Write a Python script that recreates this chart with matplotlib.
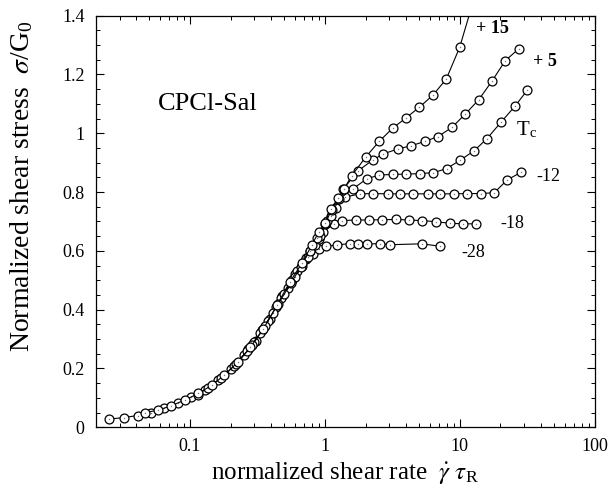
import matplotlib
matplotlib.use("Agg")
import matplotlib.pyplot as plt
from matplotlib.ticker import LogLocator, MultipleLocator, FixedLocator, FixedFormatter, NullFormatter

plt.rcParams['font.family'] = ['Liberation Serif', 'DejaVu Serif']
plt.rcParams['mathtext.fontset'] = 'stix'

# ---- data ----
x_m28 = [0.0252, 0.0323, 0.0408, 0.0512, 0.064, 0.081, 0.102, 0.128, 0.16, 0.2, 0.25, 0.31,
         0.39, 0.48, 0.6, 0.72, 0.81, 0.9, 1.02, 1.22, 1.54, 1.77, 2.04, 2.56, 3.03, 5.2, 7.1]
y_m28 = [0.028, 0.033, 0.040, 0.050, 0.066, 0.082, 0.103, 0.128, 0.16, 0.197, 0.245, 0.295,
         0.37, 0.445, 0.52, 0.572, 0.59, 0.606, 0.616, 0.62, 0.625, 0.625, 0.623, 0.625, 0.621, 0.624, 0.616]

x_m18 = [0.27, 0.34, 0.43, 0.53, 0.62, 0.72, 0.84, 0.96, 1.17, 1.33, 1.69, 2.12, 2.66, 3.36,
         4.19, 5.28, 6.7, 8.4, 10.5, 13.2]
y_m18 = [0.265, 0.33, 0.41, 0.475, 0.53, 0.575, 0.62, 0.665, 0.69, 0.703, 0.705, 0.705, 0.706,
         0.707, 0.705, 0.703, 0.699, 0.694, 0.692, 0.692]

x_m12 = [0.3, 0.38, 0.47, 0.57, 0.68, 0.78, 0.9, 1.04, 1.2, 1.41, 1.82, 2.28, 2.92, 3.63, 4.52,
         5.78, 7.18, 9.05, 11.3, 14.3, 18.0, 22.4, 28.3]
y_m12 = [0.29, 0.36, 0.44, 0.5, 0.55, 0.6, 0.64, 0.7, 0.745, 0.783, 0.794, 0.795, 0.794, 0.794,
         0.794, 0.794, 0.794, 0.794, 0.795, 0.795, 0.798, 0.841, 0.867]

x_tc = [0.21, 0.265, 0.33, 0.41, 0.5, 0.6, 0.75, 0.92, 1.1, 1.28, 1.61, 2.04, 2.52, 3.18, 4.0,
        5.1, 6.36, 8.0, 10.1, 12.8, 15.9, 20.3, 25.6, 31.7]
y_tc = [0.208, 0.26, 0.32, 0.39, 0.455, 0.51, 0.58, 0.65, 0.72, 0.777, 0.811, 0.845, 0.858, 0.86,
        0.861, 0.863, 0.866, 0.88, 0.909, 0.941, 0.982, 1.039, 1.092, 1.147]

x_p5 = [0.115, 0.135, 0.17, 0.22, 0.29, 0.36, 0.45, 0.56, 0.66, 0.77, 0.88, 1.0, 1.12, 1.37, 1.77,
        2.26, 2.71, 3.49, 4.38, 5.56, 6.89, 8.74, 11.0, 13.8, 17.4, 21.7, 27.3]
y_p5 = [0.11, 0.135, 0.168, 0.215, 0.28, 0.345, 0.42, 0.49, 0.545, 0.6, 0.645, 0.69, 0.74, 0.811,
        0.873, 0.909, 0.93, 0.947, 0.958, 0.973, 0.989, 1.02, 1.066, 1.114, 1.179, 1.247, 1.287]

x_p15 = [0.046, 0.058, 0.072, 0.091, 0.115, 0.145, 0.18, 0.226, 0.28, 0.35, 0.44, 0.55, 0.68, 0.8,
         0.9, 1.0, 1.1, 1.26, 1.39, 1.58, 2.02, 2.53, 3.17, 3.98, 4.99, 6.33, 7.94, 9.96, 12.6]
y_p15 = [0.05, 0.058, 0.073, 0.092, 0.115, 0.143, 0.178, 0.222, 0.272, 0.335, 0.415, 0.495, 0.56,
         0.62, 0.665, 0.695, 0.743, 0.78, 0.812, 0.856, 0.921, 0.973, 1.017, 1.052, 1.088, 1.13,
         1.185, 1.292, 1.45]

series = [(x_m28, y_m28), (x_m18, y_m18), (x_m12, y_m12), (x_tc, y_tc), (x_p5, y_p5), (x_p15, y_p15)]

labels = ["+ 15", "+ 5", "T$_\\mathregular{c}$", "-12", "-18", "-28"]
label_x = [13.2, 35.0, 26.0, 37.0, 20.0, 10.3]
label_y = [1.355, 1.243, 1.012, 0.853, 0.694, 0.594]
label_bold = [True, True, False, False, False, False]

x_ticks = [0.1, 1, 10, 100]
x_ticklabels = ["0.1", "1", "10", "100"]
y_ticks = [0, 0.2, 0.4, 0.6, 0.8, 1.0, 1.2, 1.4]
y_ticklabels = ["0", "0.2", "0.4", "0.6", "0.8", "1", "1.2", "1.4"]

# ---- figure ----
fig = plt.figure(figsize=(6.1, 4.9), dpi=100)
ax = fig.add_axes([0.157, 0.128, 0.818, 0.84])

for xs, ys in series:
    ax.plot(xs, ys, '-', color='black', lw=0.8, marker='o', ms=6.4,
            mfc='white', mec='black', mew=0.9)
    ax.plot(xs, ys, linestyle='none', marker='o', ms=1.0, mfc='#777777', mec='#777777', mew=0)

ax.set_xscale('log')
ax.set_xlim(0.02, 100)
ax.set_ylim(0, 1.4)

ax.xaxis.set_major_locator(FixedLocator(x_ticks))
ax.xaxis.set_major_formatter(FixedFormatter(x_ticklabels))
ax.xaxis.set_minor_locator(LogLocator(base=10, subs=range(2, 10)))
ax.xaxis.set_minor_formatter(NullFormatter())
ax.yaxis.set_major_locator(FixedLocator(y_ticks))
ax.yaxis.set_major_formatter(FixedFormatter(y_ticklabels))
ax.yaxis.set_minor_locator(MultipleLocator(0.05))

ax.tick_params(which='both', direction='in', top=True, right=True, labelsize=13, color='black')
ax.tick_params(which='major', length=6, width=0.8, pad=8)
ax.tick_params(which='minor', length=3, width=0.7)
for s in ax.spines.values():
    s.set_linewidth(0.9)

ax.set_xlabel("normalized shear rate  $\\dot{\\gamma}\\ \\tau_{\\mathregular{R}}$", fontsize=18, labelpad=3)
ax.set_ylabel("Normalized shear stress  $\\sigma$/G$_\\mathregular{0}$", fontsize=20)
ax.yaxis.set_label_coords(-0.12, 0.585)

ax.text(0.058, 1.10, "CPCl-Sal", fontsize=19, va='center', ha='left')

for t, lx, ly, b in zip(labels, label_x, label_y, label_bold):
    ax.text(lx, ly, t, fontsize=15 if t == labels[2] else 13, va='center', ha='left',
            fontweight='bold' if b else 'normal')

fig.savefig("out.png", dpi=100)
